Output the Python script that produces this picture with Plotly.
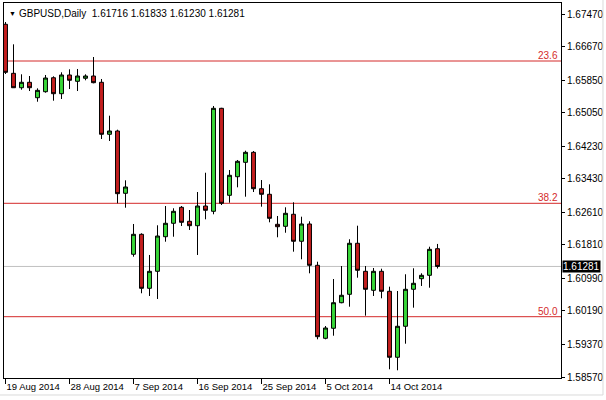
import plotly.graph_objects as go

# ---------------- data ----------------
opens = [1.67218, 1.66016, 1.65663, 1.65796, 1.65418, 1.65565, 1.65908, 1.65516, 1.65975, 1.65820,
         1.65894, 1.65950, 1.65796, 1.64521, 1.64602, 1.63074, 1.61579, 1.62069, 1.60745, 1.61162,
         1.62010, 1.62339, 1.62731, 1.62388, 1.62280, 1.62763, 1.62633, 1.65158, 1.63025, 1.63481,
         1.63834, 1.64079, 1.63187, 1.63050, 1.62314, 1.62265, 1.62560, 1.61898, 1.62322, 1.61309,
         1.59519, 1.59765, 1.60392, 1.60598, 1.61849, 1.61162, 1.60696, 1.61162, 1.60672, 1.59054,
         1.59814, 1.60721, 1.60981, 1.61064, 1.61716]
highs = [1.67274, 1.66727, 1.65992, 1.65950, 1.65648, 1.65975, 1.65943, 1.66041, 1.66114, 1.66122,
         1.65992, 1.66416, 1.65877, 1.64977, 1.64634, 1.63393, 1.62322, 1.62094, 1.61562, 1.62290,
         1.62763, 1.62707, 1.62763, 1.62665, 1.63106, 1.63579, 1.65215, 1.65170, 1.63645, 1.63891,
         1.64119, 1.64111, 1.63400, 1.63295, 1.62518, 1.62731, 1.62854, 1.62501, 1.62388, 1.61397,
         1.59821, 1.60973, 1.61292, 1.61947, 1.62280, 1.61292, 1.61243, 1.61226, 1.60785, 1.60679,
         1.61089, 1.61236, 1.61113, 1.61765, 1.61833]
lows = [1.65999, 1.65656, 1.65614, 1.65582, 1.65320, 1.65541, 1.65345, 1.65386, 1.65631, 1.65582,
        1.65845, 1.65771, 1.64406, 1.64357, 1.62829, 1.62721, 1.61520, 1.60623, 1.60557, 1.60483,
        1.61888, 1.62010, 1.62273, 1.62175, 1.61562, 1.62437, 1.62560, 1.62787, 1.62844, 1.63221,
        1.62991, 1.63106, 1.62746, 1.62363, 1.61996, 1.62108, 1.61643, 1.61456, 1.61113, 1.59495,
        1.59495, 1.59583, 1.60378, 1.60294, 1.61005, 1.60074, 1.60557, 1.60500, 1.58760, 1.58735,
        1.59387, 1.60270, 1.60802, 1.60760, 1.61230]
closes = [1.66041, 1.65663, 1.65796, 1.65663, 1.65599, 1.65901, 1.65516, 1.65975, 1.65845, 1.65950,
          1.65950, 1.65786, 1.64521, 1.64602, 1.63065, 1.63229, 1.62069, 1.60745, 1.61162, 1.62027,
          1.62339, 1.62633, 1.62363, 1.62280, 1.62763, 1.62658, 1.65158, 1.62829, 1.63516, 1.63859,
          1.64079, 1.63187, 1.63050, 1.62461, 1.62255, 1.62584, 1.61898, 1.62322, 1.61309, 1.59559,
          1.59772, 1.60392, 1.60574, 1.61849, 1.61187, 1.60721, 1.61162, 1.60672, 1.59054, 1.59814,
          1.60721, 1.60868, 1.61064, 1.61701, 1.61281]

date_labels = ["19 Aug 2014", "28 Aug 2014", "7 Sep 2014", "16 Sep 2014",
               "25 Sep 2014", "5 Oct 2014", "14 Oct 2014"]
date_label_bars = [0, 8, 16, 24, 32, 40, 48]

price_ticks = [1.67470, 1.66670, 1.65850, 1.65050, 1.64230, 1.63430,
               1.62610, 1.61810, 1.60990, 1.60190, 1.59370, 1.58570]

fib_names = ["23.6", "38.2", "50.0"]
fib_prices = [1.66318, 1.62829, 1.60049]

symbol = "GBPUSD,Daily"

# ---------------- figure ----------------
bars = list(range(len(opens)))
RED = "#C41E1E"
GREEN = "#38D838"
FONT = "Liberation Sans, Arial, sans-serif"

fig = go.Figure()
fig.add_trace(go.Candlestick(
    x=bars, open=opens, high=highs, low=lows, close=closes,
    increasing=dict(fillcolor=GREEN, line=dict(color="black", width=1)),
    decreasing=dict(fillcolor=RED, line=dict(color="black", width=1)),
    whiskerwidth=0, showlegend=False, hoverinfo="skip",
))

last_close = closes[-1]
shapes = []
for p in fib_prices:
    shapes.append(dict(type="line", xref="paper", x0=0, x1=1, yref="y", y0=p, y1=p,
                       line=dict(color="#D42A2A", width=1), layer="below"))
shapes.append(dict(type="line", xref="paper", x0=0, x1=1, yref="y", y0=last_close, y1=last_close,
                   line=dict(color="#C0C0C0", width=1), layer="below"))
# faint window frame on the right and bottom
shapes.append(dict(type="line", xref="paper", yref="paper", x0=1.0754, x1=1.0754, y0=1.01, y1=-0.0453,
                   line=dict(color="#DADADA", width=1)))
shapes.append(dict(type="line", xref="paper", yref="paper", x0=-0.01, x1=1.0754, y0=-0.0453, y1=-0.0453,
                   line=dict(color="#DADADA", width=1)))

annotations = []
for name, p in zip(fib_names, fib_prices):
    annotations.append(dict(text=name, xref="paper", x=1, xanchor="right", xshift=-1,
                            yref="y", y=p, yanchor="bottom", yshift=-2, showarrow=False,
                            font=dict(family=FONT, size=10, color="#D42A2A")))
annotations.append(dict(text=f"{last_close:.5f}", xref="paper", x=1, xanchor="left", xshift=1,
                        yref="y", y=last_close, yanchor="middle", showarrow=False,
                        bgcolor="black", borderpad=0,
                        font=dict(family=FONT, size=10, color="white")))
header = f"{symbol}\u00a0\u00a0{opens[-1]:.5f} {highs[-1]:.5f} {lows[-1]:.5f} {closes[-1]:.5f}"
annotations.append(dict(text="▼", xref="paper", yref="paper", x=0, y=1, xanchor="left",
                        yanchor="top", xshift=3, yshift=-5, showarrow=False,
                        font=dict(family=FONT, size=7, color="black")))
annotations.append(dict(text=header, xref="paper", yref="paper", x=0, y=1, xanchor="left",
                        yanchor="top", xshift=13, yshift=-3, showarrow=False,
                        font=dict(family=FONT, size=10, color="black")))

fig.update_layout(
    width=606, height=400,
    margin=dict(l=4, r=45, t=3, b=22),
    paper_bgcolor="white", plot_bgcolor="white",
    shapes=shapes, annotations=annotations,
    font=dict(family=FONT, size=10, color="black"),
    xaxis=dict(
        range=[-0.1875, 69.4375], rangeslider=dict(visible=False),
        tickmode="array", tickvals=date_label_bars, ticktext=date_labels,
        ticklabelposition="outside right", tickangle=0, automargin=False,
        ticks="outside", ticklen=5, tickcolor="black",
        showgrid=False, zeroline=False, showline=True, linecolor="black", linewidth=1,
        mirror=True, tickfont=dict(family=FONT, size=9.5, color="black"),
    ),
    yaxis=dict(
        range=[1.58546, 1.67740], side="right", automargin=False,
        tickmode="array", tickvals=price_ticks, ticktext=[f"{v:.5f}" for v in price_ticks],
        ticks="outside", ticklen=3, tickcolor="black",
        showgrid=False, zeroline=False, showline=True, linecolor="black", linewidth=1,
        mirror=True, tickfont=dict(family=FONT, size=10, color="black"),
    ),
)

fig.write_html(
    "out.html",
    config={"displayModeBar": False},
    post_script="document.body.style.margin='0';document.body.style.overflow='hidden';",
)
